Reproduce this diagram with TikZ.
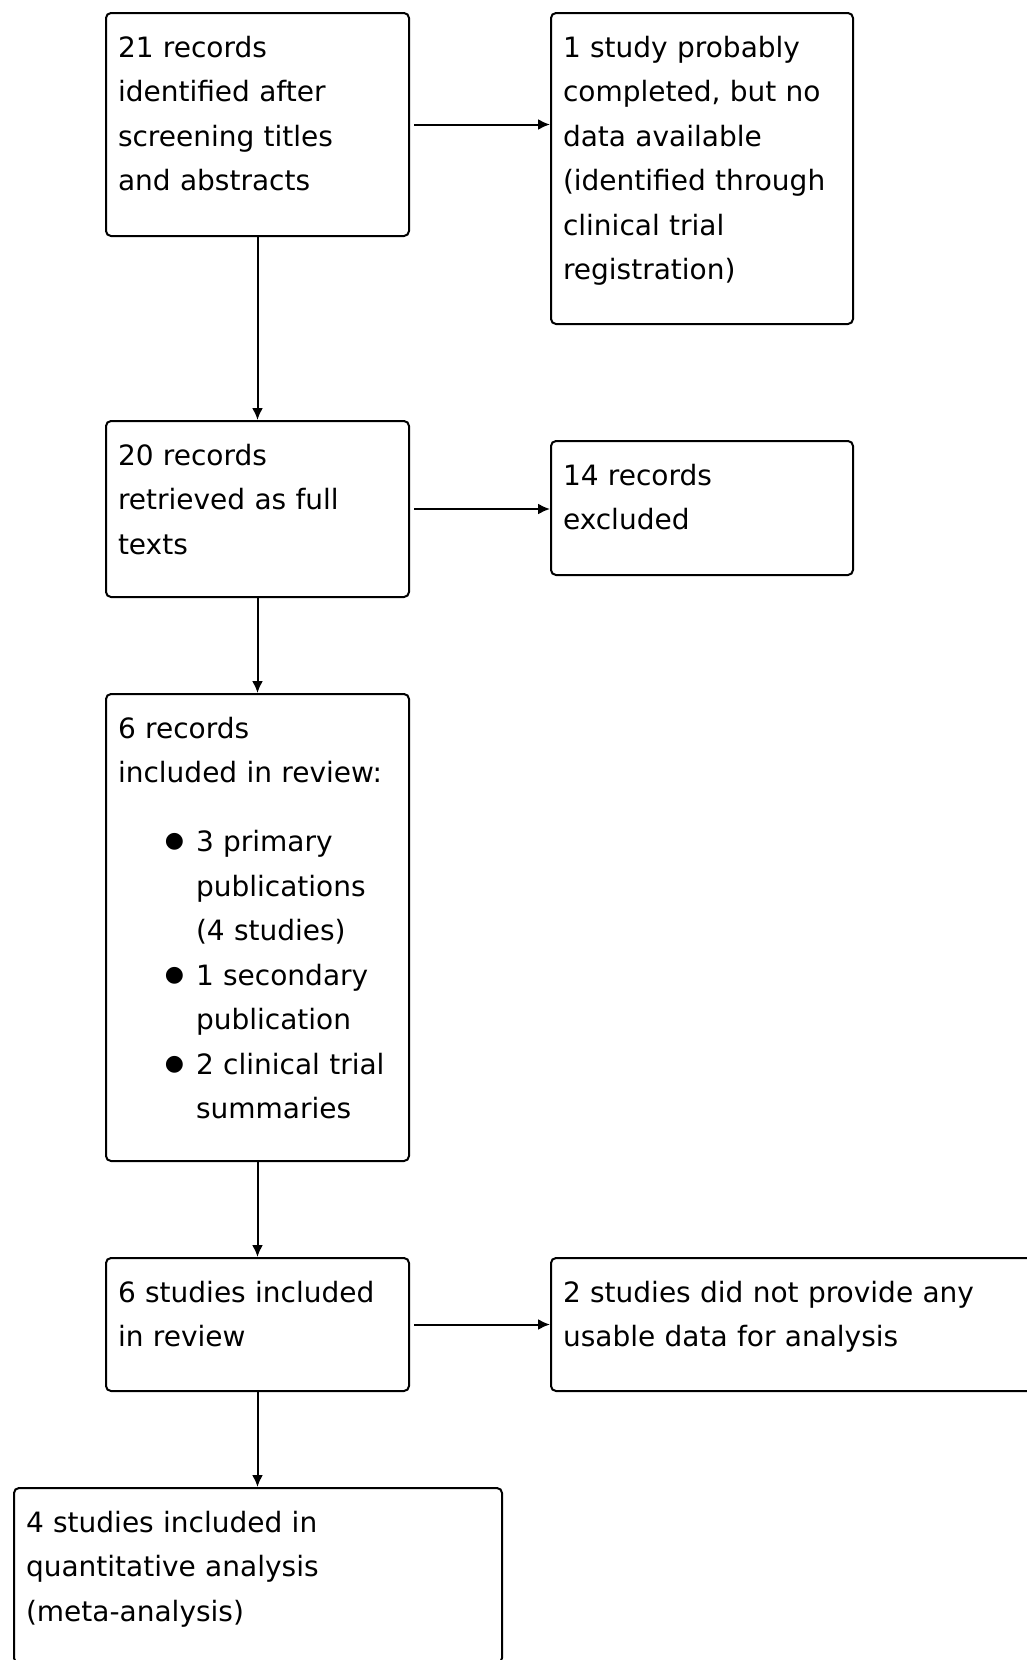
\documentclass[tikz,border=0pt]{standalone}
\usepackage{fontspec}
\setmainfont{DejaVu Sans}
\usetikzlibrary{arrows.meta}

\tikzset{
  rec/.style={draw, line width=2pt, rounded corners=5pt, anchor=north west,
    align=left, inner xsep=12pt, inner ysep=0pt, text height=44pt,
    font=\fontsize{28}{44.5}\selectfont},
  flow/.style={line width=2pt, -{Latex[length=12pt,width=11pt]}}
}
\newcommand{\dotmark}{\raisebox{4pt}{\fontsize{22}{22}\selectfont ●}}
\newcommand{\dotline}[1]{\hspace*{78pt}\llap{\dotmark\hspace{12pt}}#1}
\newcommand{\subline}[1]{\hspace*{78pt}#1}

\begin{document}
\begin{tikzpicture}[x=1pt,y=-1pt]
      \useasboundingbox (0,0) rectangle (1027,1660);
      \draw
        (105,12) node[rec, text width=279pt, text depth=179pt] (r21)
          {21 records\\identified after\\screening titles\\and abstracts}
        (550,12) node[rec, text width=278pt, text depth=267pt] (nodata)
          {1 study probably\\completed, but no\\data available\\(identified through\\clinical trial\\registration)}
        (105,420) node[rec, text width=279pt, text depth=132pt] (r20)
          {20 records\\retrieved as full\\texts}
        (550,440) node[rec, text width=278pt, text depth=90pt] (x14)
          {14 records\\excluded}
        (105,693) node[rec, text width=279pt, text depth=423pt] (r6)
          {6 records\\included in review:\\[24.5pt]
           \dotline{3 primary}\\\subline{publications}\\\subline{(4 studies)}\\
           \dotline{1 secondary}\\\subline{publication}\\
           \dotline{2 clinical trial}\\\subline{summaries}}
        (105,1257) node[rec, text width=279pt, text depth=89pt] (s6)
          {6 studies included\\in review}
        (550,1257) node[rec, text width=466pt, text depth=89pt] (nouse)
          {2 studies did not provide any\\usable data for analysis}
        (13,1487) node[rec, text width=464pt, text depth=131pt] (m4)
          {4 studies included in\\quantitative analysis\\(meta-analysis)};
      \begin{scope}[flow]
        \draw[shorten <=4pt] (r21.east) to (r21.east -| nodata.west);
        \draw (r21) to (r20);
        \draw[shorten <=4pt] (r20.east) to (r20.east -| x14.west);
        \draw (r20) to (r6);
        \draw (r6) to (s6);
        \draw[shorten <=4pt] (s6.east) to (s6.east -| nouse.west);
        \draw (s6.south) to (s6.south |- m4.north);
      \end{scope}
    \end{tikzpicture}
\end{document}
